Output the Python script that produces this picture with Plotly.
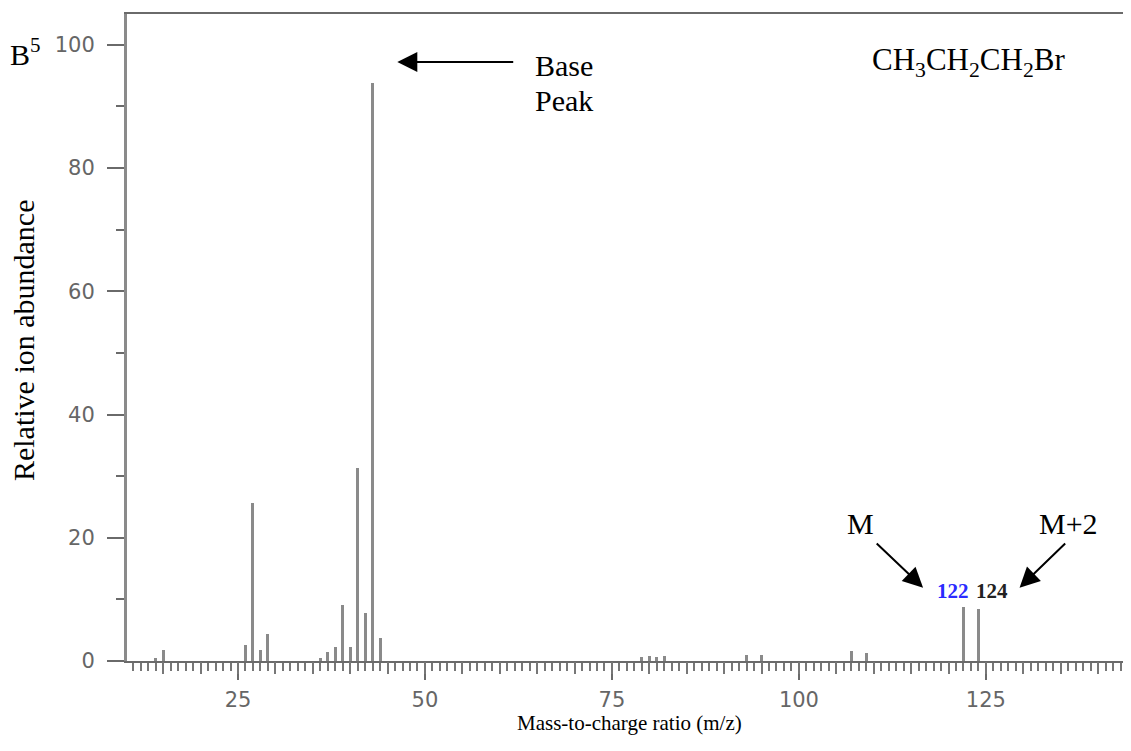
import plotly.graph_objects as go

# m/z values and relative abundances
mz = [14, 15, 26, 27, 28, 29, 36, 37, 38, 39, 40, 41, 42, 43, 44,
      79, 80, 81, 82, 93, 95, 107, 109, 122, 124]
abundance = [0.5, 1.8, 2.6, 25.6, 1.8, 4.4, 0.5, 1.5, 2.3, 9.1, 2.3, 31.3, 7.8, 93.8, 3.7,
             0.7, 0.8, 0.7, 0.8, 0.9, 0.9, 1.6, 1.3, 8.8, 8.4]

x_range = [10.16, 144.4]
y_range = [0, 105]
y_ticks = [0, 20, 40, 60, 80, 100]
x_ticks = [25, 50, 75, 100, 125]

serif = "Liberation Serif, Times New Roman, serif"
tickfont = dict(family="DejaVu Sans, Verdana, sans-serif", size=21, color="#666")

fig = go.Figure()
fig.add_trace(go.Bar(x=mz, y=abundance, width=0.4,
                     marker=dict(color="#8a8a8a", line=dict(width=0)),
                     showlegend=False, hoverinfo="x+y"))
# helper invisible trace so the 5-unit tick axis is drawn
fig.add_trace(go.Scatter(x=[x_range[0]], y=[0], xaxis="x2", mode="markers",
                         marker=dict(opacity=0), showlegend=False, hoverinfo="skip"))

fig.update_layout(
    width=1123, height=743,
    margin=dict(l=119, r=0, t=6, b=90),
    paper_bgcolor="white", plot_bgcolor="white",
    bargap=0,
    xaxis=dict(range=x_range, showgrid=False, zeroline=False,
               showline=True, linecolor="#6a6a6a", linewidth=2, mirror=True,
               ticks="outside", tickvals=x_ticks, ticklen=17, tickwidth=2, tickcolor="#6a6a6a",
               tickfont=tickfont, ticklabelstandoff=2,
               minor=dict(ticks="outside", dtick=1, tick0=0, ticklen=8, tickwidth=1.5,
                          tickcolor="#777", showgrid=False)),
    xaxis2=dict(range=x_range, overlaying="x", anchor="y", side="bottom",
                showgrid=False, zeroline=False, showline=False,
                ticks="outside", tick0=0, dtick=5, ticklen=12, tickwidth=1.5,
                tickcolor="#777", showticklabels=False),
    yaxis=dict(range=y_range, showgrid=False, zeroline=False,
               showline=True, linecolor="#8a8a8a", linewidth=3,
               ticks="outside", tickvals=y_ticks, ticklen=17, tickwidth=2, tickcolor="#6a6a6a",
               tickfont=tickfont, ticklabelstandoff=8,
               minor=dict(ticks="outside", dtick=10, tick0=0, ticklen=8, tickwidth=2,
                          tickcolor="#6a6a6a", showgrid=False)),
)

tfont = dict(family=serif, size=30, color="black")
arrow = dict(showarrow=True, arrowhead=2, arrowsize=2, arrowwidth=2, arrowcolor="black",
             text="", xref="x", yref="y", axref="x", ayref="y")
ann = []
# Base peak arrow
ann.append(dict(x=46.3, y=97.2, ax=62.0, ay=97.2, **arrow))
ann.append(dict(x=64.5, y=96.6, xref="x", yref="y", text="Base", showarrow=False,
                xanchor="left", yanchor="middle", font=tfont))
ann.append(dict(x=64.5, y=90.9, xref="x", yref="y", text="Peak", showarrow=False,
                xanchor="left", yanchor="middle", font=tfont))
ann.append(dict(x=109.5, y=97.2, xref="x", yref="y",
                text="CH<sub>3</sub>CH<sub>2</sub>CH<sub>2</sub>Br", showarrow=False,
                xanchor="left", yanchor="middle", font=dict(family=serif, size=31, color="black")))
# M and M+2
ann.append(dict(x=108.2, y=22.3, xref="x", yref="y", text="M", showarrow=False,
                xanchor="center", yanchor="middle", font=tfont))
ann.append(dict(x=136.0, y=22.3, xref="x", yref="y", text="M+2", showarrow=False,
                xanchor="center", yanchor="middle", font=tfont))
ann.append(dict(x=116.6, y=11.9, ax=110.2, ay=19.3, **arrow))
ann.append(dict(x=129.5, y=11.9, ax=135.8, ay=19.3, **arrow))
ann.append(dict(x=120.6, y=11.4, xref="x", yref="y", text="<b>122</b>", showarrow=False,
                xanchor="center", yanchor="middle",
                font=dict(family=serif, size=21, color="#2b2bff")))
ann.append(dict(x=125.8, y=11.4, xref="x", yref="y", text="<b>124</b>", showarrow=False,
                xanchor="center", yanchor="middle",
                font=dict(family=serif, size=21, color="#222")))
# axis titles
ann.append(dict(x=-0.1036, y=0.496, xref="paper", yref="paper", text="Relative ion abundance",
                textangle=-90, showarrow=False, xanchor="center", yanchor="middle",
                font=dict(family=serif, size=30, color="black")))
ann.append(dict(x=0.5, y=-0.0958, xref="paper", yref="paper", text="Mass-to-charge ratio (m/z)",
                showarrow=False, xanchor="center", yanchor="middle",
                font=dict(family=serif, size=21, color="black")))
# cut-off label at top-left
ann.append(dict(x=-0.1185, y=0.941, xref="paper", yref="paper", text="B<sup>5</sup>",
                showarrow=False, xanchor="left", yanchor="middle", font=tfont))

fig.update_layout(annotations=ann)
fig.write_html("out.html")
